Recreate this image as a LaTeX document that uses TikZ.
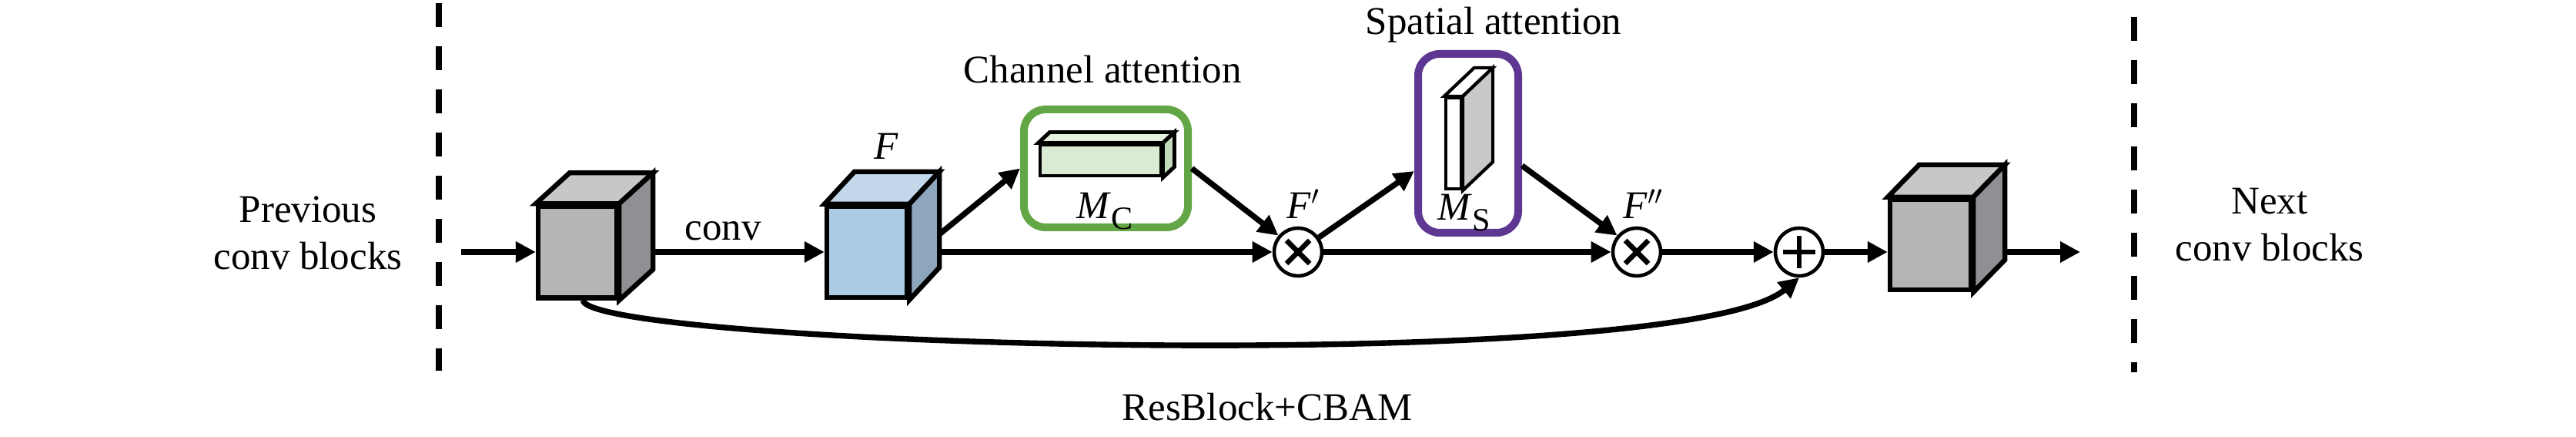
\documentclass[tikz,border=0pt]{standalone}
\usepackage{fontspec}
\setmainfont{Liberation Serif}
\usetikzlibrary{arrows.meta}

\definecolor{grayfront}{HTML}{B5B4B6}
\definecolor{graytop}{HTML}{C6C7C9}
\definecolor{grayside}{HTML}{8E9095}
\definecolor{bluefront}{HTML}{AECBE4}
\definecolor{bluetop}{HTML}{C2D7EA}
\definecolor{blueside}{HTML}{8DA6BD}
\definecolor{mcfront}{HTML}{D9EBD3}
\definecolor{mctop}{HTML}{E4F1DF}
\definecolor{mcside}{HTML}{C4DABD}
\definecolor{msside}{HTML}{C8C8C8}
\definecolor{cagreen}{HTML}{62A645}
\definecolor{sapurple}{HTML}{5E3793}

% top and side faces of a box whose front face is a node
\newcommand{\boxfaces}[6]{%
  \filldraw[line width=#6, fill=#4] (#1.north west) -- ++(#2,#3) -- ([shift={(#2,#3)}]#1.north east) -- (#1.north east) -- cycle;
  \filldraw[line width=#6, fill=#5] (#1.north east) -- ++(#2,#3) -- ([shift={(#2,#3)}]#1.south east) -- (#1.south east) -- cycle;}
\newcommand{\msym}[1]{\textit{M}\raisebox{-4pt}{\fontsize{12pt}{14pt}\selectfont #1}}

\begin{document}
\begin{tikzpicture}[font=\fontsize{14.5pt}{17.4pt}\selectfont,
  cubefront/.style={draw, line width=1.8pt, inner sep=0pt},
  attbox/.style={draw, line width=2.85pt, rounded corners=0.28cm, inner sep=0pt},
  opnode/.style={circle, draw, line width=1.3pt, minimum size=0.62cm, inner sep=0pt},
  oplines/.style={line width=1.9pt},
  arr/.style={line width=2.1pt, -{Triangle[length=0.26cm,width=0.26cm]}},
  sepline/.style={line width=2.3pt, dash pattern=on 0.31cm off 0.25cm}]
\useasboundingbox (0,0) rectangle (33.46,5.67);

% block borders
\draw[sepline] (5.70,5.63) -- (5.70,0.86);
\draw[sepline] (27.72,5.45) -- (27.72,0.84);
\node[align=center] (prev) at (4.00,2.65) {Previous\\conv blocks};
\node[align=center] (next) at (29.48,2.75) {Next\\conv blocks};

% feature maps
\node[cubefront, fill=grayfront, minimum width=1.02cm, minimum height=1.19cm] (c1) at (7.50,2.40) {};
\boxfaces{c1}{0.44}{0.40}{graytop}{grayside}{1.8pt}
\node[cubefront, fill=bluefront, minimum width=1.04cm, minimum height=1.18cm] (fb) at (11.26,2.40) {};
\boxfaces{fb}{0.39}{0.42}{bluetop}{blueside}{1.8pt}
\node (flbl) at (11.51,3.77) {\textit{F}};
\node[cubefront, fill=grayfront, minimum width=1.05cm, minimum height=1.17cm] (c3) at (25.075,2.495) {};
\boxfaces{c3}{0.41}{0.42}{graytop}{grayside}{1.8pt}

% channel attention
\node[attbox, draw=cagreen, minimum width=2.13cm, minimum height=1.53cm] (ca) at (14.365,3.485) {};
\node (calbl) at (14.32,4.77) {Channel attention};
\node[cubefront, line width=1.4pt, fill=mcfront, minimum width=1.57cm, minimum height=0.40cm] (mc) at (14.295,3.59) {};
\boxfaces{mc}{0.15}{0.14}{mctop}{mcside}{1.4pt}
\node (mclbl) at (14.35,2.93) {\msym{C}};

% spatial attention
\node[attbox, draw=sapurple, minimum width=1.30cm, minimum height=2.32cm] (sa) at (19.07,3.81) {};
\node (salbl) at (19.40,5.35) {Spatial attention};
\node[cubefront, line width=1.2pt, fill=white, minimum width=0.20cm, minimum height=1.18cm] (ms) at (18.88,3.81) {};
\boxfaces{ms}{0.39}{0.37}{white}{msside}{1.2pt}
\node (mslbl) at (19.02,2.91) {\msym{S}};

% operators
\node[opnode] (o1) at (16.86,2.40) {};
\draw[oplines] (o1) ++(-0.15,-0.15) -- ++(0.30,0.30) (o1) ++(-0.15,0.15) -- ++(0.30,-0.30);
\node (f1lbl) at (16.93,3.02) {\textit{F}$'$};
\node[opnode] (o2) at (21.26,2.40) {};
\draw[oplines] (o2) ++(-0.15,-0.15) -- ++(0.30,0.30) (o2) ++(-0.15,0.15) -- ++(0.30,-0.30);
\node (f2lbl) at (21.35,3.02) {\textit{F}$''$};
\node[opnode] (plus) at (23.37,2.40) {};
\draw[oplines] (plus) ++(-0.21,0) -- ++(0.42,0) (plus) ++(0,-0.21) -- ++(0,0.42);

% connections
\coordinate (prevout) at (5.99,2.40);
\coordinate (c3out) at (26.01,2.40);
\coordinate (nextin) at (27.02,2.40);
\draw[arr] (prevout) -- (c1);
\draw[arr] ([xshift=0.44cm]c1.east) -- (fb);
\node (convlbl) at (9.39,2.67) {conv};
\draw[arr] ([xshift=0.39cm]fb.east) -- (o1);
\draw[arr] ([shift={(0.39,0.23)}]fb.east) -- (ca.west);
\draw[arr] (ca.east) -- (o1.140);
\draw[arr] (o1.35) -- ([yshift=-0.36cm]sa.west);
\draw[arr] ([yshift=-0.29cm]sa.east) -- (o2.140);
\draw[arr] (o1) -- (o2);
\draw[arr] (o2) -- (plus);
\draw[arr] (plus) -- (plus -| c3.west);
\draw[arr] (c3out) -- (nextin);
% shortcut
\draw[arr] ([xshift=0.07cm]c1.south) .. controls +(0.13,-0.60) and +(-1.55,-1.29) .. (plus.south);
\node (reslbl) at (16.46,0.39) {ResBlock+CBAM};
\end{tikzpicture}
\end{document}
